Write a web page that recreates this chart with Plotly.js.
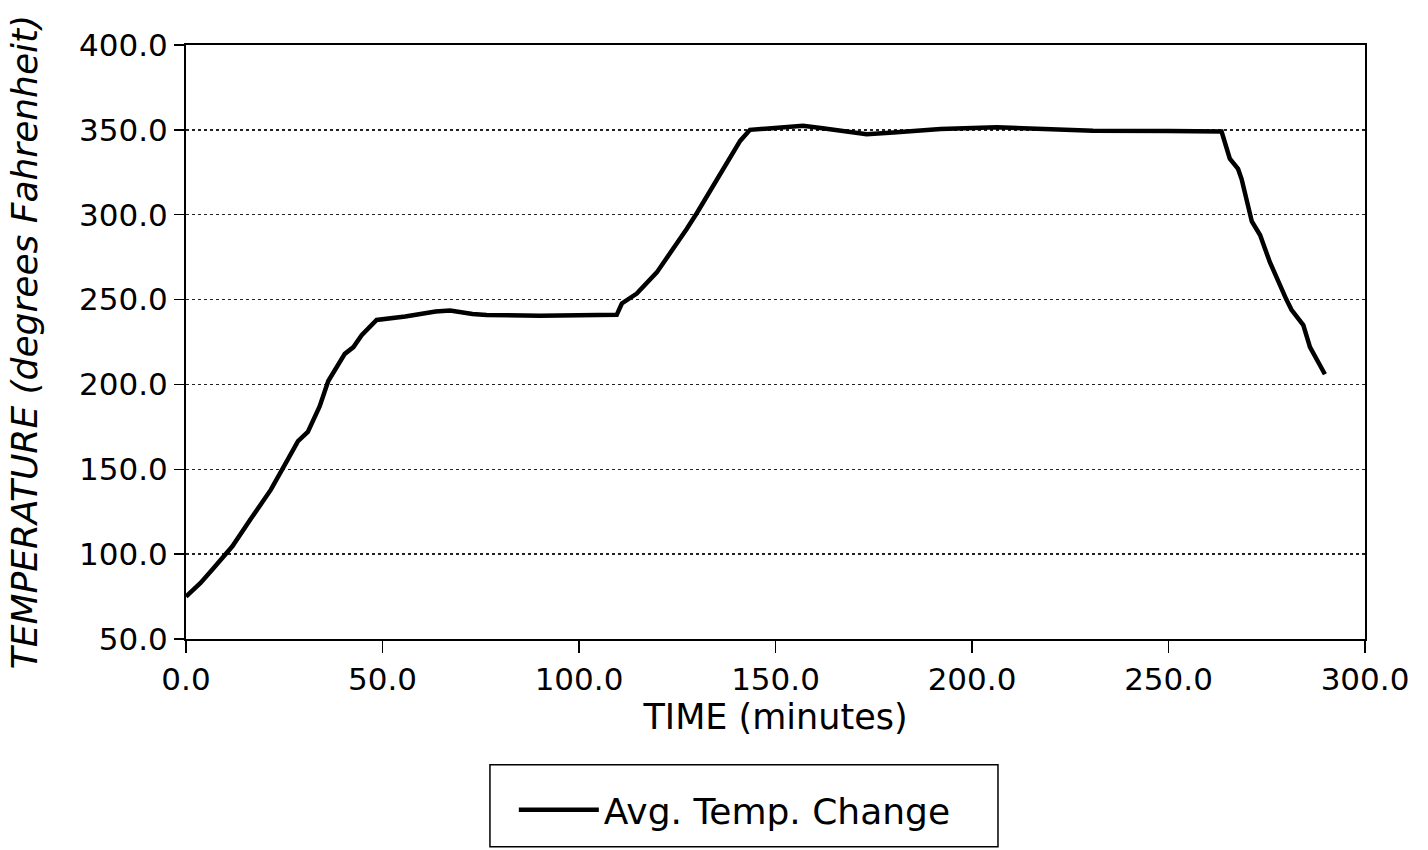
<!DOCTYPE html>
<html>
<head>
<meta charset="utf-8">
<script src="https://cdn.plot.ly/plotly-3.0.1.min.js"></script>
<style>html,body{margin:0;padding:0;background:#fff;}#chart{width:1428px;height:850px;}</style>
</head>
<body>
<div id="chart"></div>
<script>
const timeMinutes = [0, 3.7, 7.1, 11.8, 16.5, 21.6, 25.7, 28.5, 31, 34, 36.2, 40.4, 42.6, 44.7, 48.5, 55.8, 63.5, 67.2, 72.9, 76.5, 90, 100, 109.6, 110.9, 114.7, 119.8, 124.9, 127.4, 130, 134.2, 138.4, 141, 143.5, 151.1, 157, 162, 168, 173.2, 180, 188.5, 192, 206.3, 220.6, 230.8, 250, 263.5, 265.6, 267.7, 268.6, 271.2, 273.3, 275.8, 280, 281.3, 284.3, 286, 289.8];
const avgTemp = [75, 83, 92, 104.6, 120.8, 138, 155, 166.6, 172, 187, 202, 218, 222, 229, 238, 240, 243, 243.5, 241.5, 240.9, 240.5, 240.5, 241, 247.7, 253.5, 266, 282.6, 291.6, 301, 317, 334, 343.5, 350, 351.4, 352.4, 351, 349, 347.4, 348.4, 349.8, 350.5, 351.5, 350.5, 349.5, 349.3, 349, 333, 327, 321, 296, 288, 272, 250, 244, 235, 222, 206];
const xTicks = [0, 50, 100, 150, 200, 250, 300];
const yTicks = [50, 100, 150, 200, 250, 300, 350, 400];
const seriesName = "Avg. Temp. Change";

const font = "DejaVu Sans, Arial, sans-serif";

const trace = {
  x: timeMinutes, y: avgTemp, type: "scatter", mode: "lines",
  name: seriesName,
  line: {color: "#000", width: 4.5}
};

const layout = {
  width: 1428, height: 850,
  margin: {l: 186, r: 63, t: 45, b: 210},
  paper_bgcolor: "#fff", plot_bgcolor: "#fff",
  font: {family: font, color: "#000", size: 30},
  showlegend: true,
  legend: {
    orientation: "h", x: 0.4655, xanchor: "center", y: -0.235, yanchor: "top",
    font: {family: font, size: 36, color: "#000"},
    bgcolor: "rgba(0,0,0,0)", borderwidth: 0, itemwidth: 80
  },
  shapes: [{
    type: "rect", xref: "paper", yref: "paper",
    x0: 0.2578, x1: 0.6887, y0: -0.3496, y1: -0.2118,
    line: {color: "#000", width: 1.5}, fillcolor: "rgba(0,0,0,0)"
  }],
  xaxis: {
    range: [0, 300], tickvals: xTicks, tickformat: ".1f",
    ticks: "outside", ticklen: 12, tickwidth: 1.5, tickcolor: "#000",
    showline: true, linecolor: "#000", linewidth: 2, mirror: true,
    showgrid: false, zeroline: false,
    tickfont: {family: font, size: 31},
    title: {text: "TIME (minutes)", font: {family: font, size: 35}, standoff: 0}
  },
  yaxis: {
    range: [50, 400], tickvals: yTicks, tickformat: ".1f",
    ticks: "outside", ticklen: 10, tickwidth: 1.5, tickcolor: "#000",
    showline: true, linecolor: "#000", linewidth: 2, mirror: true,
    showgrid: true, gridcolor: "#222", gridwidth: 1.5, griddash: "dot",
    zeroline: false,
    tickfont: {family: font, size: 31},
    title: {text: "<i>TEMPERATURE (degrees Fahrenheit)</i>", font: {family: font, size: 36}, standoff: 30}
  }
};

Plotly.newPlot("chart", [trace], layout, {displayModeBar: false, staticPlot: true});
</script>
</body>
</html>
